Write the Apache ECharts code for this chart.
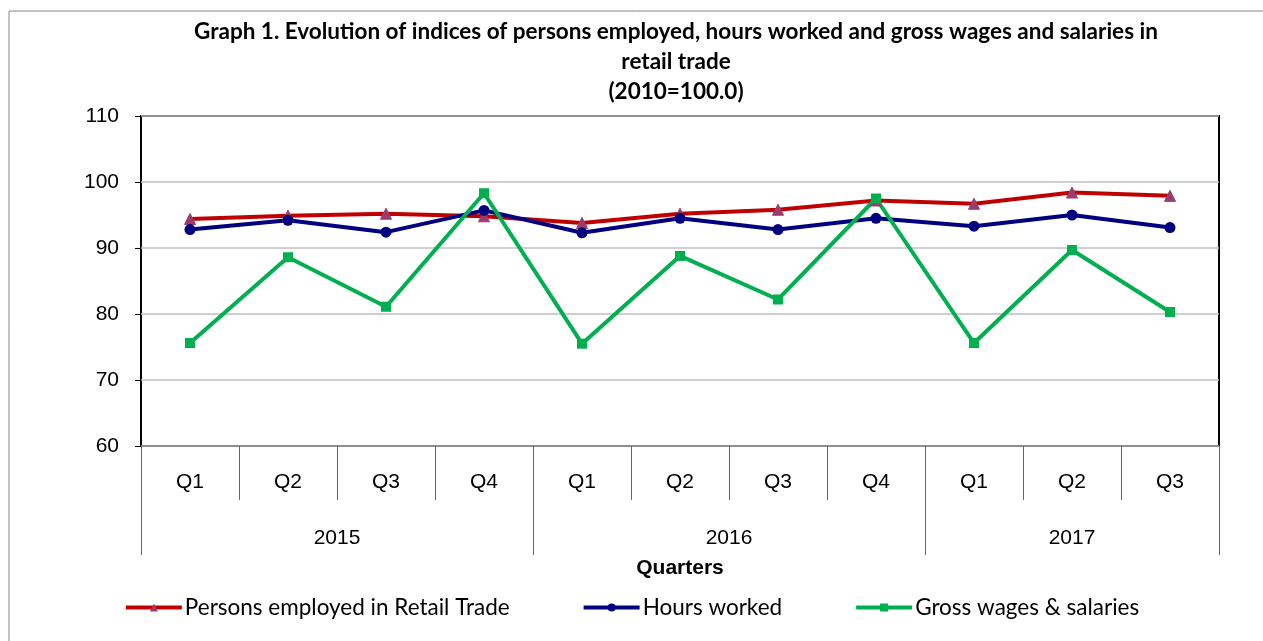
<!DOCTYPE html>
<html>
<head>
<meta charset="utf-8">
<script src="https://cdn.jsdelivr.net/npm/echarts@6/dist/echarts.min.js"></script>
<style>
  html, body { margin: 0; padding: 0; background: #fff; }
  #chart { width: 1263px; height: 641px; }
</style>
</head>
<body>
<div id="chart"></div>
<script>
var quarters = ['Q1', 'Q2', 'Q3', 'Q4', 'Q1', 'Q2', 'Q3', 'Q4', 'Q1', 'Q2', 'Q3'];
var years = ['2015', '2016', '2017'];
var yearCenters = [2, 6, 9.5];
var yearBounds = [0, 4, 8, 11];

var personsEmployed = [94.4, 94.9, 95.2, 94.8, 93.8, 95.2, 95.8, 97.2, 96.7, 98.4, 97.9];
var hoursWorked = [92.8, 94.2, 92.4, 95.7, 92.3, 94.5, 92.8, 94.5, 93.3, 95.0, 93.1];
var grossWages = [75.6, 88.6, 81.1, 98.3, 75.5, 88.8, 82.2, 97.5, 75.6, 89.7, 80.3];

var myChart = echarts.init(document.getElementById('chart'));

var option = {
    backgroundColor: '#fff',
    title: {
        text: 'Graph 1. Evolution of indices of persons employed, hours worked and gross wages and salaries in\nretail trade\n(2010=100.0)',
        left: 671,
        top: 12,
        textAlign: 'center',
        textStyle: {
            fontFamily: 'Lato',
            fontWeight: 'bold',
            fontSize: 22.5,
            lineHeight: 30,
            color: '#000'
        }
    },
    legend: {
        bottom: 17,
        left: 'center',
        itemWidth: 56,
        itemHeight: 10,
        itemGap: 72,
        lineStyle: { width: 4 },
        textStyle: { fontFamily: 'Lato', fontSize: 22.5, color: '#000', padding: [0, 0, 0, -2] },
        data: ['Persons employed in Retail Trade', 'Hours worked', 'Gross wages & salaries']
    },
    graphic: [{
        type: 'rect',
        shape: { x: 9, y: 11, width: 1270, height: 660 },
        style: { fill: 'none', stroke: '#888', lineWidth: 1 },
        silent: true,
        z: -10
    }],
    grid: {
        left: 141,
        right: 44,
        top: 116,
        bottom: 195,
        show: true,
        borderColor: '#000',
        borderWidth: 2,
        backgroundColor: 'transparent'
    },
    xAxis: [{
        type: 'category',
        data: quarters,
        boundaryGap: true,
        position: 'bottom',
        axisLine: { show: false },
        axisTick: { show: true, interval: 0, length: 54, lineStyle: { color: '#666', width: 1 } },
        axisLabel: { interval: 0, margin: 26, fontFamily: 'Liberation Sans', fontSize: 21, color: '#000' },
        splitLine: { show: false }
    }, {
        type: 'value',
        min: 0,
        max: 11,
        position: 'bottom',
        axisLine: { show: false },
        axisTick: { show: true, customValues: yearBounds, length: 109, lineStyle: { color: '#666', width: 1 } },
        axisLabel: {
            customValues: yearCenters,
            margin: 82,
            fontFamily: 'Liberation Sans',
            fontSize: 21,
            color: '#000',
            formatter: function (v) { return years[yearCenters.indexOf(v)]; }
        },
        splitLine: { show: false },
        name: 'Quarters',
        nameLocation: 'middle',
        nameGap: 112,
        nameTextStyle: { fontFamily: 'Liberation Sans', fontWeight: 'bold', fontSize: 21, color: '#000' }
    }],
    yAxis: {
        type: 'value',
        min: 60,
        max: 110,
        interval: 10,
        axisLine: { show: false },
        axisTick: { show: true, length: 6, lineStyle: { color: '#000' } },
        axisLabel: { margin: 22, fontFamily: 'Liberation Sans', fontSize: 21, color: '#000' },
        splitLine: { lineStyle: { color: '#bfbfbf', width: 1.5 } }
    },
    series: [{
        name: 'Persons employed in Retail Trade',
        type: 'line',
        data: personsEmployed,
        symbol: 'triangle',
        symbolSize: 11,
        lineStyle: { color: '#c00000', width: 4 },
        itemStyle: { color: '#9c3c6e', borderColor: '#9c3c6e' }
    }, {
        name: 'Hours worked',
        type: 'line',
        data: hoursWorked,
        symbol: 'circle',
        symbolSize: 11,
        lineStyle: { color: '#000080', width: 4 },
        itemStyle: { color: '#000080' }
    }, {
        name: 'Gross wages & salaries',
        type: 'line',
        data: grossWages,
        symbol: 'rect',
        symbolSize: 10,
        lineStyle: { color: '#00b050', width: 4 },
        itemStyle: { color: '#00b050' }
    }]
};

myChart.setOption(option);
</script>
</body>
</html>
